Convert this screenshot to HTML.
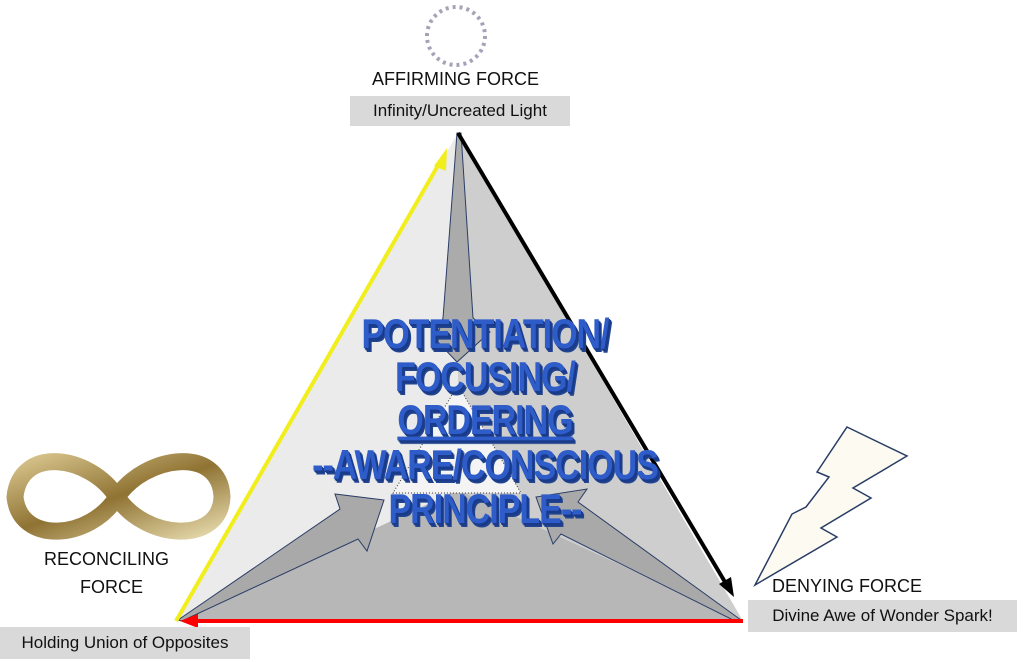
<!DOCTYPE html>
<html><head><meta charset="utf-8"><style>
html,body{margin:0;padding:0;background:#fff;}
body{width:1023px;height:662px;position:relative;overflow:hidden;font-family:"Liberation Sans",sans-serif;}
.lbl{position:absolute;font-size:18px;color:#111;white-space:nowrap;}
.box{position:absolute;background:#d9d9d9;font-size:17px;color:#111;display:flex;align-items:center;justify-content:center;white-space:nowrap;}
.big{position:absolute;left:15px;width:940px;text-align:center;font-weight:bold;font-size:34px;color:#2e5cc8;letter-spacing:-1px;
text-shadow:1px 1px 0 #1a3a8a,2px 2px 0 #1a3a8a,3px 3px 0 #22458f;line-height:34px;transform:scaleY(1.22);transform-origin:50% 0;}
</style></head><body>
<svg width="1023" height="662" style="position:absolute;left:0;top:0">
<defs>
<linearGradient id="g" x1="0" y1="0" x2="1" y2="1">
<stop offset="0" stop-color="#d6c28a"/><stop offset="0.5" stop-color="#8f7333"/><stop offset="1" stop-color="#e3d6a8"/></linearGradient>
</defs>
<circle cx="456" cy="36" r="29" fill="none" stroke="#a3a3b8" stroke-width="4" stroke-dasharray="3 4"/>
<polygon points="458,133 176,621 458,490" fill="#ebebeb"/>
<polygon points="458,133 743,621 458,490" fill="#cecece"/>
<polygon points="176,621 743,621 458,490" fill="#b7b7b7"/>
<polygon points="458,385 393,493 521,493" fill="#f4f4f4" stroke="#333" stroke-width="1" stroke-dasharray="1 2"/>
<polygon points="457,133 443,318 436,340 457,362 490,332 473,318 461,133" fill="#ababab" stroke="#2a3d66" stroke-width="1"/>
<polygon points="178,620 340,509 335,494 384,500 367,551 358,539 182,621" fill="#a9a9a9" stroke="#2a3d66" stroke-width="1"/>
<polygon points="741,620 578,502 587,489 536,497 553,544 561,534 737,622" fill="#a9a9a9" stroke="#2a3d66" stroke-width="1"/>
<line x1="176" y1="621" x2="440" y2="162" stroke="#f2ee1c" stroke-width="4"/>
<polygon points="447,148 434,166 446,171" fill="#f2ee1c"/>
<line x1="458" y1="133" x2="725" y2="582" stroke="#000" stroke-width="4"/>
<polygon points="734,597 719,584 731,577" fill="#000"/>
<line x1="743" y1="621" x2="195" y2="621" stroke="#f00" stroke-width="4"/>
<polygon points="180,621 198,614 198,628" fill="#f00"/>
<polygon points="847,427 907,456 853,488 871,498 821,528 837,537 755,585 792,514 806,507 829,477 817,472" fill="#fcfaf1" stroke="#2a3d66" stroke-width="1.5"/>
<path d="M117,497 C90,455 20,445 15,497 C20,545 90,540 117,497 C145,455 220,445 222,497 C220,545 145,540 117,497 Z" fill="none" stroke="url(#g)" stroke-width="17"/>
</svg>
<div class="lbl" style="left:372px;top:69px;">AFFIRMING FORCE</div>
<div class="box" style="left:350px;top:96px;width:220px;height:30px;">Infinity/Uncreated Light</div>
<div class="lbl" style="left:44px;top:549px;">RECONCILING</div>
<div class="lbl" style="left:80px;top:577px;">FORCE</div>
<div class="box" style="left:0;top:627px;width:250px;height:32px;">Holding Union of Opposites</div>
<div class="lbl" style="left:772px;top:576px;">DENYING FORCE</div>
<div class="box" style="left:748px;top:600px;width:269px;height:32px;">Divine Awe of Wonder Spark!</div>
<div class="big" style="top:314px;">POTENTIATION/</div>
<div class="big" style="top:357px;">FOCUSING/</div>
<div class="big" style="top:400px;"><span style="text-decoration:underline;">ORDERING</span></div>
<div class="big" style="top:445px;">--AWARE/CONSCIOUS</div>
<div class="big" style="top:489px;">PRINCIPLE--</div>
</body></html>
